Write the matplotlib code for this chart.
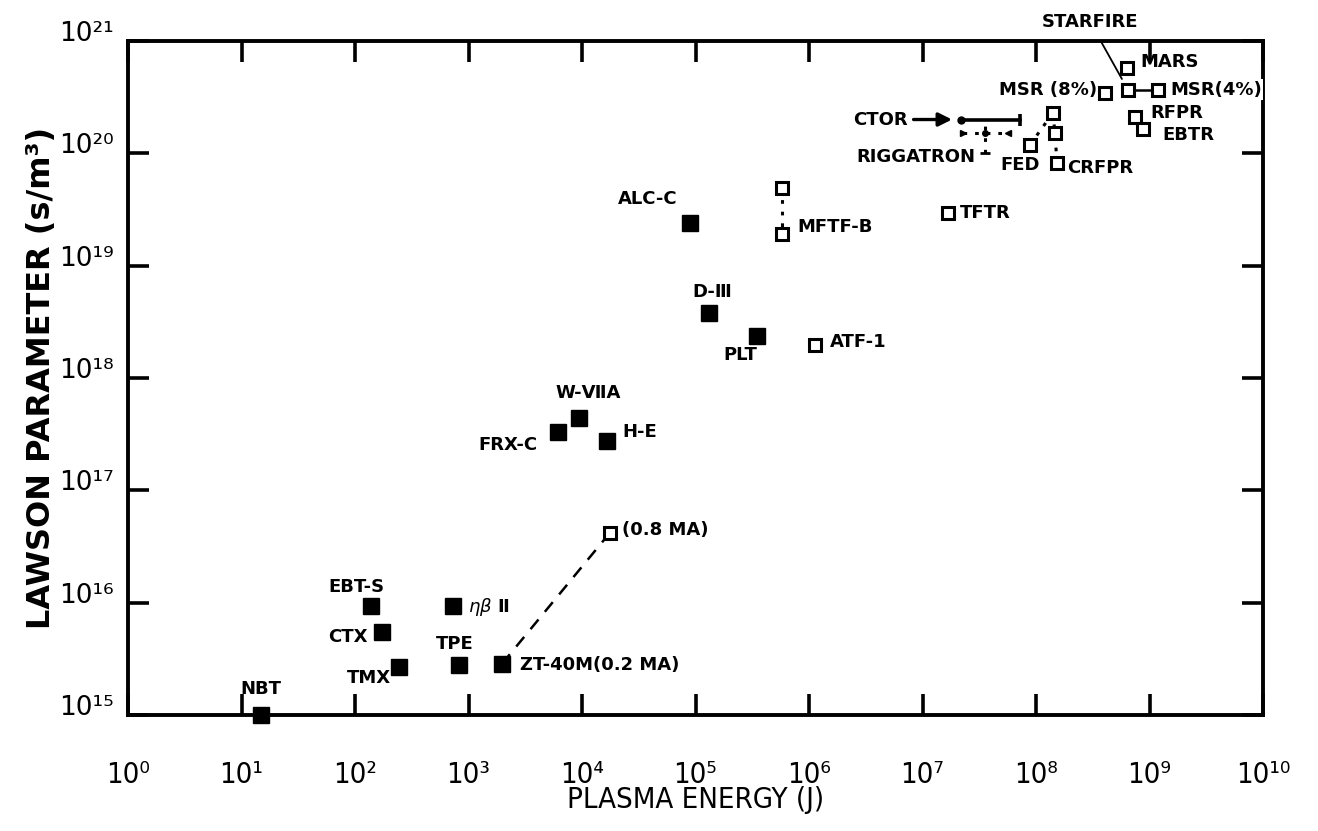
import matplotlib
matplotlib.use("Agg")
import matplotlib.pyplot as plt

# ---------------- data ----------------
# existing devices (filled squares)
exist_names = ["NBT", "EBT-S", "CTX", "TMX", "TPE", "ηβII", "ZT-40M", "FRX-C",
               "W-VIIA", "H-E", "ALC-C", "D-III", "PLT"]
exist_energy = [14.9, 138, 173, 244, 825, 730, 1970, 6150, 9400, 16600, 89500,
                1.32e5, 3.48e5]
exist_lawson = [1.0e15, 9.3e15, 5.5e15, 2.7e15, 2.8e15, 9.3e15, 2.85e15, 3.3e17,
                4.4e17, 2.75e17, 2.4e19, 3.8e18, 2.37e18]

# planned devices (open squares)
plan_names = ["ZT-40M (0.8 MA)", "MFTF-B (upper)", "MFTF-B", "ATF-1", "TFTR", "FED",
              "CRFPR (upper)", "CRFPR (mid)", "CRFPR", "MSR (8%)", "STARFIRE",
              "MSR(4%)", "MARS", "RFPR", "EBTR"]
plan_energy = [17650, 5.78e5, 5.78e5, 1.13e6, 1.68e7, 8.85e7, 1.41e8, 1.47e8,
               1.53e8, 4.06e8, 6.47e8, 1.19e9, 6.34e8, 7.45e8, 8.77e8]
plan_lawson = [4.2e16, 4.9e19, 1.9e19, 1.97e18, 2.95e19, 1.19e20, 2.29e20,
               1.51e20, 8.2e19, 3.46e20, 3.67e20, 3.67e20, 5.77e20, 2.11e20,
               1.65e20]

# CTOR range bar and RIGGATRON cross
ctor_energy = [1.82e7, 2.2e7, 7.2e7]
ctor_lawson = 2.0e20
rig_energy = [2.27e7, 3.56e7, 5.66e7]
rig_lawson = [1.01e20, 1.52e20, 2.0e20]

xtick_values = [10.0 ** k for k in range(0, 11)]
xtick_labels = ["10⁰", "10¹", "10²", "10³", "10⁴", "10⁵", "10⁶", "10⁷", "10⁸",
                "10⁹", "10¹⁰"]
ytick_values = [10.0 ** k for k in range(15, 22)]
ytick_labels = ["10¹⁵", "10¹⁶", "10¹⁷", "10¹⁸", "10¹⁹", "10²⁰", "10²¹"]

# label text and placement (offset in pixels from the point)
exist_label_style = {
    "NBT": ("NBT", 0, 26, "center"),
    "EBT-S": ("EBT-S", -14, 19, "center"),
    "CTX": ("CTX", -14, -5, "right"),
    "TMX": ("TMX", -8, -11, "right"),
    "TPE": ("TPE", -4, 21, "center"),
    "ηβII": ("$\\eta\\beta$ Ⅱ", 15, -1, "left"),
    "ZT-40M": ("ZT-40M(0.2 MA)", 18, -1, "left"),
    "FRX-C": ("FRX-C", -21, -13, "right"),
    "W-VIIA": ("W-ⅦA", 9, 25, "center"),
    "H-E": ("H-E", 15, 9, "left"),
    "ALC-C": ("ALC-C", -42, 24, "center"),
    "D-III": ("D-Ⅲ", 3, 21, "center"),
    "PLT": ("PLT", -17, -19, "center"),
}
plan_label_style = {
    "ZT-40M (0.8 MA)": ("(0.8 MA)", 12, 3, "left"),
    "MFTF-B": ("MFTF-B", 15, 7, "left"),
    "ATF-1": ("ATF-1", 15, 3, "left"),
    "TFTR": ("TFTR", 12, 0, "left"),
    "FED": ("FED", -10, -20, "center"),
    "CRFPR": ("CRFPR", 10, -5, "left"),
    "MSR (8%)": ("MSR (8%)", -8, 3, "right"),
    "MSR(4%)": ("MSR(4%)", 12, 0, "left"),
    "MARS": ("MARS", 13, 6, "left"),
    "RFPR": ("RFPR", 15, 4, "left"),
    "EBTR": ("EBTR", 19, -6, "left"),
}

# ---------------- figure ----------------
W, H = 1318, 831
fig = plt.figure(figsize=(W / 100, H / 100), dpi=100)
ax = fig.add_axes([128 / W, (H - 715) / H, (1263 - 128) / W, (715 - 41) / H])
ax.set_xscale("log")
ax.set_yscale("log")
ax.set_xlim(1, 1e10)
ax.set_ylim(1e15, 1e21)

for s in ax.spines.values():
    s.set_linewidth(2.8)
ax.minorticks_off()
ax.set_xticks(xtick_values)
ax.set_xticklabels(xtick_labels, family="DejaVu Sans", fontstretch="condensed",
                   fontsize=21)
ax.set_yticks(ytick_values)
ax.set_yticklabels(ytick_labels, family="DejaVu Sans", fontsize=19)
ax.minorticks_off()
ax.tick_params(which="major", direction="in", length=15, width=2.6,
               top=True, right=True)
ax.tick_params(axis="x", pad=33)
ax.tick_params(axis="y", pad=10)
for t in ax.get_yticklabels():
    t.set_verticalalignment("baseline")

lab_kw = dict(fontsize=13, fontweight="bold", family="DejaVu Sans",
              textcoords="offset pixels", va="center")

# lines between related points
pe = dict(zip(plan_names, plan_energy))
pl = dict(zip(plan_names, plan_lawson))
ee = dict(zip(exist_names, exist_energy))
el = dict(zip(exist_names, exist_lawson))
dot = (0, (1.2, 2.6))
ax.plot([ee["ZT-40M"], pe["ZT-40M (0.8 MA)"]], [el["ZT-40M"], pl["ZT-40M (0.8 MA)"]],
        color="black", lw=1.8, ls=(0, (5, 4)))
ax.plot([pe["MFTF-B (upper)"], pe["MFTF-B"]], [pl["MFTF-B (upper)"], pl["MFTF-B"]],
        color="black", lw=2.2, ls=dot)
ax.plot([pe["FED"], pe["CRFPR (upper)"]], [pl["FED"], pl["CRFPR (upper)"]],
        color="black", lw=2.2, ls=dot)
ax.plot([pe["CRFPR (upper)"], pe["CRFPR (mid)"], pe["CRFPR"]],
        [pl["CRFPR (upper)"], pl["CRFPR (mid)"], pl["CRFPR"]],
        color="black", lw=2.2, ls=dot)
ax.plot([pe["STARFIRE"], pe["MSR(4%)"]], [pl["STARFIRE"], pl["MSR(4%)"]],
        color="black", lw=1.8)

# markers
ax.plot(exist_energy, exist_lawson, ls="none", marker="s", ms=11.5,
        mfc="black", mec="black", clip_on=False, zorder=5)
ax.plot(plan_energy, plan_lawson, ls="none", marker="s", ms=9,
        mfc="white", mec="black", mew=2.2, zorder=5)

# CTOR range
ax.plot([ctor_energy[1], ctor_energy[2]], [ctor_lawson, ctor_lawson],
        color="black", lw=2.6)
ax.plot([ctor_energy[2]], [ctor_lawson], marker="|", ms=9, mew=2.6, color="black")
ax.plot([ctor_energy[1]], [ctor_lawson], marker="o", ms=5, color="black")
ax.annotate("CTOR", xy=(ctor_energy[0], ctor_lawson), xytext=(-44, 0),
            ha="right", arrowprops=dict(arrowstyle="-|>", lw=2.4, color="black",
                                        mutation_scale=20, shrinkA=2, shrinkB=0),
            **lab_kw)

# RIGGATRON cross
ax.plot([rig_energy[0], rig_energy[2]], [rig_lawson[1], rig_lawson[1]],
        color="black", lw=2.2, ls=dot)
ax.plot([rig_energy[1], rig_energy[1]], [rig_lawson[0], rig_lawson[2]],
        color="black", lw=2.2, ls=dot)
ax.plot([rig_energy[0]], [rig_lawson[1]], marker=">", ms=5, color="black")
ax.plot([rig_energy[2]], [rig_lawson[1]], marker="<", ms=5, color="black")
ax.plot([rig_energy[1]], [rig_lawson[0]], marker="_", ms=7, mew=2, color="black")
ax.plot([rig_energy[1]], [rig_lawson[1]], marker="o", ms=4, color="black")
ax.annotate("RIGGATRON", xy=(rig_energy[1], rig_lawson[1]), xytext=(-10, -24),
            ha="right", **lab_kw)

# labels
for n, x, y in zip(exist_names, exist_energy, exist_lawson):
    txt, dx, dy, ha = exist_label_style[n]
    ax.annotate(txt, xy=(x, y), xytext=(dx, dy), ha=ha, annotation_clip=False,
                **lab_kw)
for n, x, y in zip(plan_names, plan_energy, plan_lawson):
    if n not in plan_label_style:
        continue
    txt, dx, dy, ha = plan_label_style[n]
    extra = {}
    if n == "MSR(4%)":
        extra["bbox"] = dict(fc="white", ec="none", pad=1)
    ax.annotate(txt, xy=(x, y), xytext=(dx, dy), ha=ha, annotation_clip=False,
                zorder=6, **extra, **lab_kw)

ax.annotate("STARFIRE", xy=(pe["STARFIRE"], pl["STARFIRE"]), xytext=(-38, 68),
            ha="center", annotation_clip=False,
            arrowprops=dict(arrowstyle="-", lw=1.3, color="black",
                            shrinkA=6, shrinkB=9),
            **lab_kw)

ax.set_xlabel("PLASMA ENERGY (J)", family="DejaVu Sans", fontstretch="condensed",
              fontsize=21, labelpad=-2)
ax.set_ylabel("LAWSON PARAMETER (s/m³)", family="DejaVu Sans", fontweight="bold",
              fontsize=23, labelpad=2)

fig.savefig("out.png", dpi=100)
